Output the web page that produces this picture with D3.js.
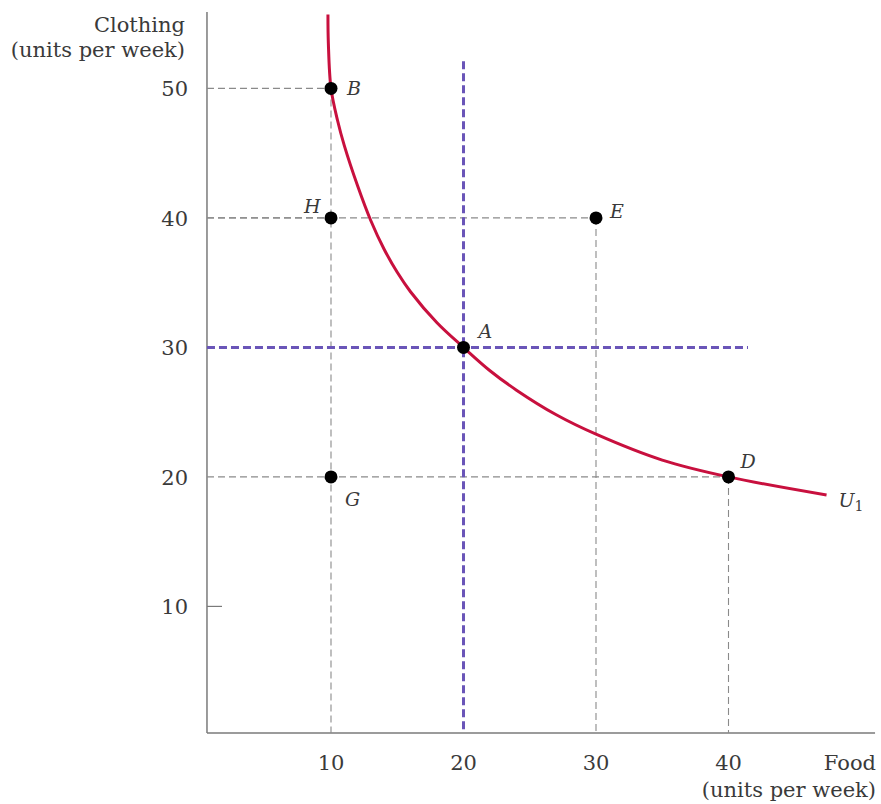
<!DOCTYPE html>
<html><head><meta charset="utf-8">
<script src="https://cdn.jsdelivr.net/npm/d3@7"></script>
<style>
body{margin:0;background:#fff;}
text{font-family:"DejaVu Serif","Liberation Serif",serif;fill:#3a3a3a;}
</style></head>
<body><svg id="c" width="881" height="804"></svg>
<script>
// Data
const xTicks = [10, 20, 30, 40];
const yTicks = [10, 20, 30, 40, 50];
const points = [
  {name:"B", food:10, clothing:50},
  {name:"H", food:10, clothing:40},
  {name:"E", food:30, clothing:40},
  {name:"A", food:20, clothing:30},
  {name:"G", food:10, clothing:20},
  {name:"D", food:40, clothing:20}
];
const curveFood     = [9.77, 9.8, 10, 10.5, 11, 12, 13, 14, 15, 16, 18, 20, 22, 24, 27, 30, 35, 40, 47.4];
const curveClothing = [55.7, 53.5, 50, 47.5, 45.6, 42.5, 39.8, 37.6, 35.8, 34.3, 31.9, 30, 28.2, 26.7, 24.8, 23.3, 21.3, 20, 18.6];
const curveLabel = "U";
const curveLabelSub = "1";
const xTitle = ["Food", "(units per week)"];
const yTitle = ["Clothing", "(units per week)"];
const axisMin = {food:0.64, clothing:0.22};
const axisMax = {food:51.06, clothing:55.9};
const purpleEnd = {food:41.47, clothing:52.1};

const svg = d3.select("#c");
const x = d3.scaleLinear().domain([0, 50]).range([198.5, 861]);
const y = d3.scaleLinear().domain([0, 50]).range([735.9, 88.4]);

const gray = "#7a7a7a";
const fs = 21;
// Axes lines
svg.append("line").attr("x1", x(axisMin.food)).attr("x2", x(axisMin.food))
  .attr("y1", y(axisMin.clothing)).attr("y2", y(axisMax.clothing))
  .attr("stroke", gray).attr("stroke-width", 1.5);
svg.append("line").attr("x1", x(axisMin.food)).attr("x2", x(axisMax.food))
  .attr("y1", y(axisMin.clothing)).attr("y2", y(axisMin.clothing))
  .attr("stroke", gray).attr("stroke-width", 1.5);

// tick mark at y=10 only (others are dashed guides)
svg.append("line").attr("x1", x(axisMin.food)).attr("x2", x(axisMin.food)+15)
  .attr("y1", y(10)).attr("y2", y(10)).attr("stroke", gray).attr("stroke-width", 1.2);

// tick labels
svg.selectAll("text.xt").data(xTicks).join("text").attr("class","xt")
  .attr("x", d => x(d)).attr("y", 770).attr("text-anchor","middle")
  .attr("font-size", fs).text(d => d);
svg.selectAll("text.yt").data(yTicks).join("text").attr("class","yt")
  .attr("x", 188).attr("y", d => y(d)+8).attr("text-anchor","end")
  .attr("font-size", fs).text(d => d);

// titles
svg.append("text").attr("x", 185).attr("y", 32).attr("text-anchor","end").attr("font-size",fs).text(yTitle[0]);
svg.append("text").attr("x", 185).attr("y", 57).attr("text-anchor","end").attr("font-size",fs).text(yTitle[1]);
svg.append("text").attr("x", 876).attr("y", 770).attr("text-anchor","end").attr("font-size",fs).text(xTitle[0]);
svg.append("text").attr("x", 876).attr("y", 797).attr("text-anchor","end").attr("font-size",fs).text(xTitle[1]);

// gray dashed guides
const guides = svg.append("g").attr("stroke","#8a8a8a").attr("stroke-width",1.1).attr("stroke-dasharray","7,4").attr("fill","none");
points.filter(p => p.name !== "A" && p.name !== "G").forEach(p => {
  guides.append("line").attr("x1", x(axisMin.food)).attr("x2", x(p.food)).attr("y1", y(p.clothing)).attr("y2", y(p.clothing));
});
points.filter(p => ["B","E","D"].includes(p.name)).forEach(p => {
  guides.append("line").attr("x1", x(p.food)).attr("x2", x(p.food)).attr("y1", y(p.clothing)).attr("y2", y(axisMin.clothing));
});

// purple dashed lines through A
const A = points.find(p => p.name === "A");
const purple = svg.append("g").attr("stroke","#6a55b8").attr("stroke-width",3).attr("stroke-dasharray","8,4");
purple.append("line").attr("x1", x(A.food)).attr("x2", x(A.food)).attr("y1", y(purpleEnd.clothing)).attr("y2", y(axisMin.clothing));
purple.append("line").attr("x1", x(axisMin.food)).attr("x2", x(purpleEnd.food)).attr("y1", y(A.clothing)).attr("y2", y(A.clothing));

// indifference curve
const curveData = curveFood.map((f, i) => [f, curveClothing[i]]);
svg.append("path").datum(curveData)
  .attr("d", d3.line().x(d => x(d[0])).y(d => y(d[1])).curve(d3.curveCatmullRom.alpha(0.5)))
  .attr("fill","none").attr("stroke","#c8103e").attr("stroke-width",3);

// points
svg.selectAll("circle.pt").data(points).join("circle").attr("class","pt")
  .attr("cx", d => x(d.food)).attr("cy", d => y(d.clothing)).attr("r", 6.5).attr("fill","#000");

// point labels
const labelOff = {B:[16,7], H:[-27,-5], E:[14,0], A:[15,-9], G:[14,29], D:[12,-9]};
svg.selectAll("text.pl").data(points).join("text").attr("class","pl")
  .attr("x", d => x(d.food) + labelOff[d.name][0])
  .attr("y", d => y(d.clothing) + labelOff[d.name][1])
  .attr("font-size", 19).attr("font-style","italic").text(d => d.name);

// curve label
const last = curveData[curveData.length-1];
const ul = svg.append("text").attr("x", x(last[0]) + 12).attr("y", y(last[1]) + 12)
  .attr("font-size", 19).attr("font-style","italic").text(curveLabel);
ul.append("tspan").attr("font-style","normal").attr("font-size",14).attr("dy",4).text(curveLabelSub);
</script></body></html>
